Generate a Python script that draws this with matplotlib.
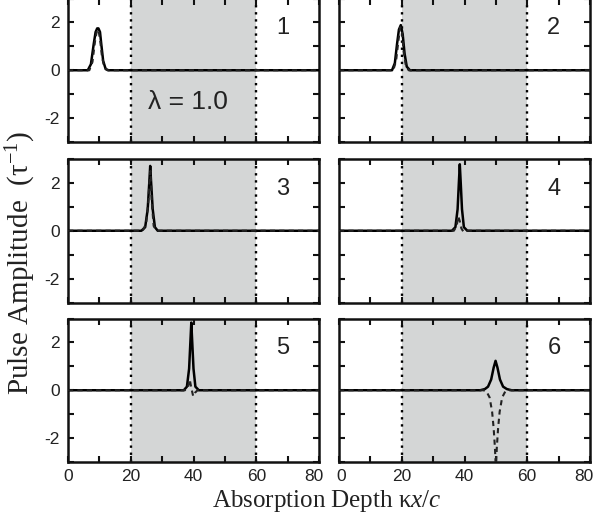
import matplotlib
matplotlib.use("Agg")
import matplotlib.pyplot as plt
from matplotlib.ticker import MultipleLocator
from matplotlib.transforms import ScaledTranslation

plt.rcParams["mathtext.fontset"] = "custom"
plt.rcParams["mathtext.rm"] = "Liberation Serif"
plt.rcParams["mathtext.it"] = "Liberation Serif:italic"
plt.rcParams["axes.unicode_minus"] = False

# ---- data ----
panel_labels = ["1", "2", "3", "4", "5", "6"]
x_ticks = [0, 20, 40, 60, 80]
y_ticks = [-2, 0, 2]
region_start, region_end = 20, 60
lambda_text = "λ = 1.0"

# solid curve (x, y) per panel
solid_x = [
    [0, 6.3, 7.3, 8.2, 8.8, 9.3, 9.7, 10.2, 10.6, 11.2, 12.0, 12.9, 80],
    [0, 16.9, 17.8, 18.5, 19.1, 19.7, 20.3, 20.9, 21.6, 22.6, 80],
    [0, 23.4, 24.6, 25.4, 25.9, 26.2, 26.5, 27.0, 27.7, 28.6, 80],
    [0, 36.0, 37.1, 37.8, 38.2, 38.5, 38.8, 39.2, 39.8, 40.9, 80],
    [0, 36.9, 37.9, 38.6, 39.0, 39.3, 39.6, 40.0, 40.6, 41.7, 80],
    [0, 45.0, 46.5, 47.5, 48.5, 49.3, 49.9, 50.5, 51.3, 52.3, 53.5, 55.0, 80],
]
solid_y = [
    [0, 0, 0.25, 1.1, 1.6, 1.75, 1.75, 1.6, 1.1, 0.4, 0.05, 0, 0],
    [0, 0, 0.3, 1.1, 1.7, 1.89, 1.5, 0.7, 0.15, 0, 0],
    [0, 0, 0.15, 0.9, 2.0, 2.71, 2.0, 0.9, 0.15, 0, 0],
    [0, 0, 0.15, 0.9, 2.0, 2.78, 2.0, 0.9, 0.15, 0, 0],
    [0, 0, 0.15, 0.9, 2.0, 2.83, 2.0, 0.9, 0.15, 0, 0],
    [0, 0, 0.05, 0.15, 0.45, 0.95, 1.23, 0.95, 0.45, 0.15, 0.05, 0, 0],
]

# dashed curve (x, y) per panel
dashed_x = [
    [0, 6.8, 7.8, 8.6, 9.2, 9.7, 10.3, 10.8, 11.5, 12.5, 80],
    [0, 17.3, 18.2, 18.9, 19.5, 20.0, 20.6, 21.3, 22.2, 80],
    [0, 23.8, 24.9, 25.6, 26.0, 26.3, 26.7, 27.3, 28.3, 80],
    [0, 36.6, 37.5, 38.0, 38.5, 39.0, 39.7, 40.4, 80],
    [0, 37.3, 38.2, 38.8, 39.3, 39.9, 40.5, 41.3, 80],
    [0, 46.0, 47.0, 48.0, 48.8, 49.3, 49.7, 50.0, 50.3, 50.7, 51.2, 52.0, 53.0, 54.0, 80],
]
dashed_y = [
    [0, 0, 0.35, 1.2, 1.65, 1.7, 1.2, 0.6, 0.15, 0, 0],
    [0, 0, 0.4, 1.2, 1.8, 1.7, 0.8, 0.2, 0, 0],
    [0, 0, 0.3, 1.2, 2.2, 2.5, 1.2, 0.2, 0, 0],
    [0, 0, 0.2, 0.6, 0.4, 0.1, -0.05, 0, 0],
    [0, 0, 0.1, 0.45, 0.1, -0.25, -0.1, 0, 0],
    [0, 0, -0.05, -0.3, -0.9, -1.6, -2.4, -3.3, -2.4, -1.6, -0.9, -0.3, -0.05, 0, 0],
]

# ---- figure ----
W, H = 595, 523
fig = plt.figure(figsize=(W / 100, H / 100), dpi=100)

col_left = [68 / W, 339 / W]
ax_w = 251 / W
row_bottom = [(H - 142) / H, (H - 302.5) / H, (H - 462) / H]
ax_h = 143.5 / H

sans = "Liberation Sans"
serif = "Liberation Serif"

# horizontal nudges (pixels) of crowded bottom tick labels: {panel: {tick index: dx}}
label_nudge = {4: {4: -5}, 5: {0: 2.5, 4: -6}}

for i in range(6):
    r, c = divmod(i, 2)
    ax = fig.add_axes([col_left[c], row_bottom[r], ax_w, ax_h])
    ax.set_xlim(0, 80)
    ax.set_ylim(-3, 3)
    ax.axvspan(region_start, region_end, color="#d4d6d6", lw=0, zorder=0)
    for xv in (region_start, region_end):
        ax.axvline(xv, color="black", ls=(0, (1, 2.0)), lw=1.7, zorder=1)
    ax.plot(solid_x[i], solid_y[i], color="black", lw=1.8, zorder=3,
            solid_joinstyle="round")
    ax.plot(dashed_x[i], dashed_y[i], color="#222222", lw=1.5,
            ls=(0, (2.5, 2)), zorder=4)
    ax.text(68.5, 1.75, panel_labels[i], fontsize=17, family=sans,
            ha="center", va="center", color="#222222")
    if i == 0:
        ax.text(38.3, -1.33, lambda_text, fontsize=19, family=sans,
                ha="center", va="center", color="#222222")

    ax.xaxis.set_minor_locator(MultipleLocator(10))
    ax.yaxis.set_minor_locator(MultipleLocator(1))
    ax.set_xticks(x_ticks)
    ax.set_yticks(y_ticks)
    ax.tick_params(which="both", direction="in", top=True, right=True,
                   width=1.5, length=4, color="#111111")
    ax.tick_params(which="major", labelsize=12.5)
    ax.tick_params(axis="y", which="major", pad=6)
    ax.tick_params(axis="x", which="major", pad=5)
    for lab in ax.get_xticklabels() + ax.get_yticklabels():
        lab.set_family(sans)
        lab.set_color("#222222")
    if r != 2:
        ax.set_xticklabels([])
    else:
        for k, dx in label_nudge.get(i, {}).items():
            lab = ax.get_xticklabels()[k]
            lab.set_transform(lab.get_transform() +
                              ScaledTranslation(dx / 100, 0, fig.dpi_scale_trans))
    if c != 0:
        ax.set_yticklabels([])
    for s in ax.spines.values():
        s.set_linewidth(1.8)
        s.set_color("#111111")

fig.text(21 / W, 1 - 263 / H, "Pulse Amplitude  (τ$^{-1}$)", rotation=90,
         ha="center", va="center", fontsize=21, family=serif, color="#222222")
fig.text(327 / W, 1 - 501 / H, "Absorption Depth κ$\\mathit{x/c}$",
         ha="center", va="center", fontsize=18, family=serif, color="#222222")

fig.savefig("out.png", dpi=100)
